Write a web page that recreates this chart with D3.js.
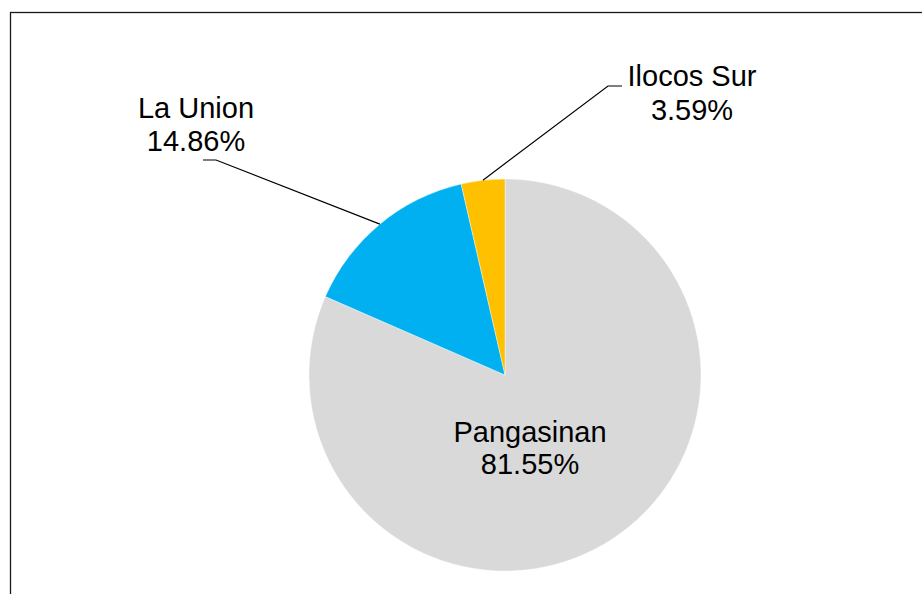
<!DOCTYPE html>
<html>
<head>
<meta charset="utf-8">
<script src="https://cdn.jsdelivr.net/npm/d3@7"></script>
<style>
  html, body { margin: 0; padding: 0; background: #fff; }
  svg { display: block; }
</style>
</head>
<body>
<svg id="chart" width="922" height="594"></svg>
<script>
// Data
const categories = ["Pangasinan", "La Union", "Ilocos Sur"];
const values = [81.55, 14.86, 3.59];
const percentLabels = ["81.55%", "14.86%", "3.59%"];
const colors = ["#D9D9D9", "#00B0F0", "#FFC000"];

const W = 922, H = 594;
const svg = d3.select("#chart");

// Chart border
svg.append("rect")
  .attr("x", 10.5).attr("y", 12.5)
  .attr("width", 930).attr("height", 600)
  .attr("fill", "none")
  .attr("stroke", "#1a1a1a")
  .attr("stroke-width", 1.3);

const cx = 505, cy = 375, R = 196;
const g = svg.append("g").attr("transform", `translate(${cx},${cy})`);

const pie = d3.pie().sort(null).value(d => d.value);
const data = categories.map((c, i) => ({ name: c, value: values[i], label: percentLabels[i], color: colors[i] }));
const arcs = pie(data);
const arc = d3.arc().innerRadius(0).outerRadius(R);

g.selectAll("path.slice")
  .data(arcs)
  .join("path")
  .attr("class", "slice")
  .attr("d", arc)
  .attr("fill", d => d.data.color)
  .attr("stroke", "#fff")
  .attr("stroke-width", 0.4);

// Label layout (absolute positions of label centers / leader elbows)
const labelLayout = {
  "Pangasinan": { x: 530, y1: 442, y2: 474, leader: null },
  "La Union": { x: 196, y1: 118, y2: 151, leader: { start: [203, 160], elbow: [216, 160] } },
  "Ilocos Sur": { x: 692, y1: 86, y2: 120, leader: { start: [622, 86], elbow: [608, 86] } }
};

const font = "'Liberation Sans', Arial, Helvetica, sans-serif";

arcs.forEach(a => {
  const L = labelLayout[a.data.name];
  const t = svg.append("text")
    .attr("text-anchor", "middle")
    .attr("font-family", font)
    .attr("font-size", 29)
    .attr("fill", "#000");
  t.append("tspan").attr("x", L.x).attr("y", L.y1).text(a.data.name);
  t.append("tspan").attr("x", L.x).attr("y", L.y2).text(a.data.label);

  if (L.leader) {
    const mid = (a.startAngle + a.endAngle) / 2;
    const ex = cx + Math.sin(mid) * R;
    const ey = cy - Math.cos(mid) * R;
    svg.append("path")
      .attr("d", d3.line()([L.leader.start, L.leader.elbow, [ex, ey]]))
      .attr("fill", "none")
      .attr("stroke", "#000")
      .attr("stroke-width", 1.2);
  }
});
</script>
</body>
</html>
